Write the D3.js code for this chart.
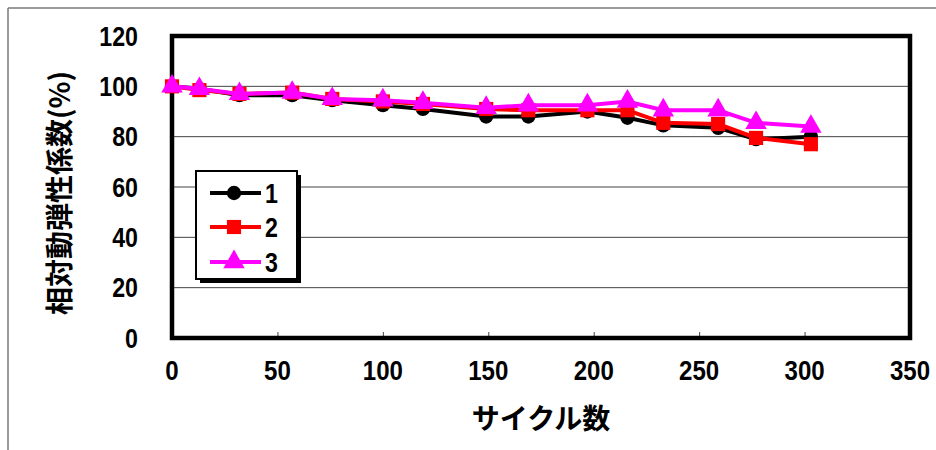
<!DOCTYPE html>
<html><head><meta charset="utf-8">
<script src="https://cdn.jsdelivr.net/npm/d3@7"></script>
<style>body{margin:0;background:#fff}svg{display:block}</style>
</head><body>
<svg id="c" width="936" height="450"></svg>
<script>
const cycles = [0, 13, 32, 57, 76, 100, 119, 149, 169, 197, 216, 233, 259, 277, 303];
const series1 = [100, 99, 96.5, 96.5, 94.5, 92.5, 91, 88, 88, 90, 87.5, 84.5, 83.5, 79, 80];
const series2 = [100, 98.5, 97, 97.5, 95, 94, 93, 91, 90.5, 90.5, 90.5, 85.5, 85, 79.5, 77];
const series3 = [100, 99, 97, 97.5, 95, 94.5, 93.5, 91.5, 92.5, 92.5, 94, 90.5, 90.5, 85.5, 84];
const seriesNames = ["1", "2", "3"];
const seriesColors = ["#000000", "#ff0000", "#ff00ff"];
const xTicks = [0, 50, 100, 150, 200, 250, 300, 350];
const yTicks = [0, 20, 40, 60, 80, 100, 120];
const xTitle = "サイクル数";
const yTitle = "相対動弾性係数(%)";

const svg = d3.select("#c");
const L = 172, R = 910, T = 36, B = 338;
const x = d3.scaleLinear().domain([0, 350]).range([L, R]);
const y = d3.scaleLinear().domain([0, 120]).range([B, T]);
const numFont = "'Liberation Sans', Arial, sans-serif";
const jpFont = "'Noto Sans CJK JP', sans-serif";
const squeeze = 0.86;

// outer frame (top and left)
svg.append("line").attr("x1", 8).attr("x2", 936).attr("y1", 8).attr("y2", 8).attr("stroke", "#7a7a7a").attr("stroke-width", 1.5);
svg.append("line").attr("x1", 8).attr("x2", 8).attr("y1", 8).attr("y2", 450).attr("stroke", "#7a7a7a").attr("stroke-width", 1.5);

// gridlines
svg.append("g").selectAll("line").data(yTicks.filter(d => d > 0 && d < 120)).join("line")
  .attr("x1", L).attr("x2", R).attr("y1", d => y(d)).attr("y2", d => y(d))
  .attr("stroke", "#444").attr("stroke-width", 1);

// x axis inward ticks
const xAxis = d3.axisBottom(x).tickValues(xTicks).tickSize(-6).tickFormat("");
const gx = svg.append("g").attr("transform", `translate(0,${B})`).call(xAxis);
gx.select(".domain").remove();
gx.selectAll("line").attr("stroke", "#444");

// tick labels (condensed bold digits)
svg.append("g").selectAll("text").data(xTicks).join("text")
  .attr("transform", d => `translate(${x(d)},380) scale(${squeeze},1)`).attr("text-anchor", "middle")
  .attr("font-family", numFont).attr("font-weight", "bold").attr("font-size", 28)
  .text(d => d);
svg.append("g").selectAll("text").data(yTicks).join("text")
  .attr("transform", d => `translate(138,${y(d)}) scale(${squeeze},1)`).attr("dy", "0.36em").attr("text-anchor", "end")
  .attr("font-family", numFont).attr("font-weight", "bold").attr("font-size", 27)
  .text(d => d);

// plot border
svg.append("rect").attr("x", L).attr("y", T).attr("width", R - L).attr("height", B - T)
  .attr("fill", "none").attr("stroke", "#000").attr("stroke-width", 4.5);

// titles
svg.append("text").attr("x", (L + R) / 2).attr("y", 429).attr("text-anchor", "middle")
  .attr("font-family", jpFont).attr("font-weight", "bold").attr("font-size", 28).text(xTitle);
svg.append("text").attr("transform", `translate(70,${(T + B) / 2 + 6}) rotate(-90)`).attr("text-anchor", "middle")
  .attr("font-family", jpFont).attr("font-weight", "bold").attr("font-size", 28).text(yTitle);

// series
const allSeries = [series1, series2, series3];
const line = d3.line().x(d => x(d[0])).y(d => y(d[1]));
const sym = [d3.symbolCircle, d3.symbolSquare, d3.symbolTriangle];
const symSize = [160, 200, 200];
allSeries.forEach((s, i) => {
  const pts = cycles.map((c, j) => [c, s[j]]);
  const g = svg.append("g");
  g.append("path").attr("d", line(pts)).attr("fill", "none").attr("stroke", seriesColors[i]).attr("stroke-width", 4);
  g.selectAll("path.m").data(pts).join("path").attr("class", "m")
    .attr("transform", d => `translate(${x(d[0])},${y(d[1])})`)
    .attr("d", d3.symbol().type(sym[i]).size(symSize[i])).attr("fill", seriesColors[i]);
});

// legend
const lg = svg.append("g");
lg.append("rect").attr("x", 200).attr("y", 175).attr("width", 101).attr("height", 108).attr("fill", "#000");
lg.append("rect").attr("x", 196).attr("y", 171).attr("width", 101).attr("height", 108).attr("fill", "#fff").attr("stroke", "#000").attr("stroke-width", 2);
const ly = [193, 227, 262];
seriesNames.forEach((n, i) => {
  lg.append("line").attr("x1", 210).attr("x2", 261).attr("y1", ly[i]).attr("y2", ly[i]).attr("stroke", seriesColors[i]).attr("stroke-width", 4);
  lg.append("path").attr("transform", `translate(234,${ly[i]})`).attr("d", d3.symbol().type(sym[i]).size(symSize[i])).attr("fill", seriesColors[i]);
  lg.append("text").attr("transform", `translate(265,${ly[i]}) scale(${squeeze},1)`).attr("dy", "0.36em")
    .attr("font-family", numFont).attr("font-weight", "bold").attr("font-size", 27).text(n);
});
</script>
</body></html>
